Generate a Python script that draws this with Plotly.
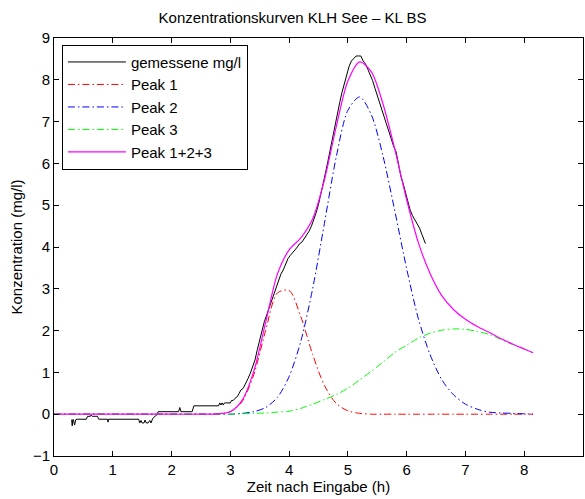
import plotly.graph_objects as go

# ---- data ----
meas_x = [0.30,0.31,0.32,0.33,0.35,0.36,0.37,0.39,0.42,0.55,0.57,0.62,0.63,0.65,0.74,0.76,0.78,0.91,0.92,0.93,
          1.44,1.46,1.48,1.50,1.53,1.55,1.57,1.60,1.63,1.65,1.68,1.72,1.76,1.77,2.12,2.14,2.16,2.35,2.37,2.38,
          2.80,2.82,2.84,2.86,2.88,2.90,2.92,2.98,3.00,3.02,3.05,3.08,3.12,3.15,3.18,3.22,3.26,3.30,3.34,3.38,
          3.42,3.46,3.50,3.54,3.58,3.62,3.66,3.70,3.74,3.78,3.82,3.86,3.90,3.94,3.98,4.02,4.06,4.10,4.14,4.18,
          4.22,4.26,4.30,4.34,4.38,4.42,4.46,4.50,4.54,4.58,4.62,4.66,4.70,4.74,4.78,4.82,4.86,4.90,4.94,4.98,
          5.02,5.06,5.10,5.14,5.18,5.22,5.26,5.30,5.34,5.38,5.42,5.46,5.50,5.54,5.58,5.62,5.66,5.70,5.74,5.78,
          5.82,5.86,5.90,5.94,5.98,6.02,6.06,6.10,6.14,6.18,6.22,6.26,6.30,6.32]
meas_y = [-0.13,-0.28,-0.13,-0.13,-0.26,-0.13,-0.13,-0.12,-0.12,-0.12,-0.05,-0.05,-0.02,-0.05,-0.05,-0.12,-0.12,-0.12,-0.19,-0.12,
          -0.12,-0.21,-0.15,-0.21,-0.21,-0.14,-0.21,-0.21,-0.15,-0.21,-0.10,-0.06,0.00,0.06,0.06,0.16,0.06,0.06,0.19,0.20,
          0.20,0.27,0.22,0.27,0.22,0.27,0.27,0.27,0.27,0.33,0.33,0.38,0.42,0.50,0.58,0.62,0.72,0.85,0.98,1.12,
          1.30,1.55,1.78,2.00,2.22,2.38,2.55,2.72,2.85,3.05,3.20,3.35,3.45,3.60,3.72,3.80,3.88,3.93,4.00,4.08,
          4.12,4.20,4.28,4.38,4.50,4.65,4.82,5.02,5.25,5.50,5.78,6.05,6.35,6.65,6.92,7.20,7.45,7.70,7.90,8.10,
          8.32,8.45,8.52,8.57,8.57,8.57,8.45,8.38,8.25,8.12,7.98,7.80,7.62,7.45,7.30,7.12,6.95,6.78,6.55,6.40,
          6.28,5.95,5.70,5.52,5.30,5.08,4.88,4.75,4.65,4.55,4.45,4.30,4.15,4.08]

fit_x = [0.0,0.5,1.0,1.5,2.0,2.5,2.8,3.0,3.2,3.4,3.6,3.8,4.0,4.2,4.4,4.6,4.8,5.0,5.2,5.4,5.6,5.8,6.0,
         6.2,6.4,6.6,6.8,7.0,7.2,7.4,7.6,7.8,8.0,8.15]
peak1 = [0,0,0,0,0,0,0.01,0.06,0.30,0.95,2.00,2.90,2.96,2.33,1.43,0.69,0.26,0.08,0.02,0,0,0,0,
         0,0,0,0,0,0,0,0,0,0,0]
peak2 = [0,0,0,0,0,0,0,0.0,0.02,0.06,0.16,0.40,0.90,1.75,3.00,4.56,6.14,7.27,7.59,7.16,6.16,4.85,3.48,
         2.28,1.42,0.82,0.46,0.24,0.12,0.05,0.03,0.02,0.01,0.0]
peak3 = [0,0,0,0,0,0,0,0.0,0.01,0.02,0.03,0.05,0.07,0.14,0.24,0.35,0.47,0.62,0.82,1.03,1.25,1.48,1.65,
         1.82,1.94,2.01,2.04,2.03,1.98,1.91,1.79,1.67,1.56,1.47]
peak_sum = [0,0,0,0,0,0,0.01,0.06,0.33,1.03,2.19,3.35,3.93,4.22,4.67,5.60,6.87,7.97,8.43,8.19,7.41,6.33,5.13,
            4.10,3.36,2.83,2.50,2.27,2.10,1.96,1.81,1.68,1.56,1.47]

names = ["gemessene mg/l", "Peak 1", "Peak 2", "Peak 3", "Peak 1+2+3"]
title_text = "Konzentrationskurven KLH See \u2013 KL BS"
x_label = "Zeit nach Eingabe (h)"
y_label = "Konzentration (mg/l)"

FONT = "Liberation Sans, Arial, Helvetica, sans-serif"
DASHDOT = "7px,3px,1.5px,3px"

fig = go.Figure()
fig.add_trace(go.Scatter(x=meas_x, y=meas_y, mode="lines", name=names[0],
                         line=dict(color="black", width=1)))
fig.add_trace(go.Scatter(x=fit_x, y=peak1, mode="lines", name=names[1],
                         line=dict(color="#ff0000", width=1, dash=DASHDOT, shape="spline", smoothing=0.8)))
fig.add_trace(go.Scatter(x=fit_x, y=peak2, mode="lines", name=names[2],
                         line=dict(color="#0000ff", width=1, dash=DASHDOT, shape="spline", smoothing=0.8)))
fig.add_trace(go.Scatter(x=fit_x, y=peak3, mode="lines", name=names[3],
                         line=dict(color="#00ff00", width=1, dash=DASHDOT, shape="spline", smoothing=0.8)))
fig.add_trace(go.Scatter(x=fit_x, y=peak_sum, mode="lines", name=names[4],
                         line=dict(color="#ff00ff", width=1.2, shape="spline", smoothing=0.8)))

axis_common = dict(showline=True, linecolor="black", linewidth=1, mirror="ticks",
                   ticks="inside", ticklen=5, tickcolor="black", showgrid=False,
                   zeroline=False, tickfont=dict(family=FONT, size=15, color="black"))

fig.update_layout(
    width=585, height=499,
    margin=dict(l=54, r=2, t=38, b=43),
    paper_bgcolor="white", plot_bgcolor="white",
    title=dict(text=title_text, x=0.5, xanchor="center", y=1 - 18 / 499, yanchor="middle",
               font=dict(family=FONT, size=15, color="black")),
    xaxis=dict(range=[0, 9], dtick=1, tick0=0,
               title=dict(text=x_label, standoff=2, font=dict(family=FONT, size=15, color="black")),
               **axis_common),
    yaxis=dict(range=[-1, 9], dtick=1, tick0=0,
               title=dict(text=y_label, standoff=6, font=dict(family=FONT, size=15, color="black")),
               **axis_common),
    legend=dict(x=0.015, y=0.984, xanchor="left", yanchor="top",
                bordercolor="black", borderwidth=1, bgcolor="white",
                font=dict(family=FONT, size=15, color="black"),
                itemwidth=58, tracegroupgap=0),
    showlegend=True,
)

fig.write_html("out.html")
